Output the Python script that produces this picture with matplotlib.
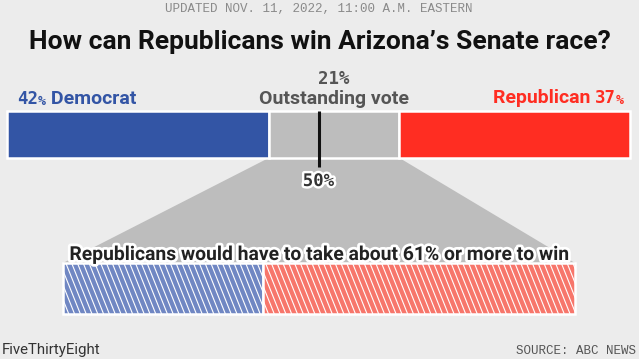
import matplotlib
matplotlib.use("Agg")
import matplotlib.pyplot as plt
from matplotlib.patches import Polygon
import matplotlib.patheffects as pe
import numpy as np

# ---- data ----
top_labels = ["Democrat", "Outstanding vote", "Republican"]
top_shares = [42, 21, 37]
needed_split = [39, 61]          # share of outstanding vote: Dem, Rep
threshold = 50
header = "UPDATED NOV. 11, 2022, 11:00 A.M. EASTERN"
title = "How can Republicans win Arizona\u2019s Senate race?"
sub_label = "Republicans would have to take about 61% or more to win"
footer_left = "FiveThirtyEight"
footer_right = "SOURCE: ABC NEWS"

BG = "#ececec"
BLUE = "#3355a5"
GRAY = "#bdbdbd"
RED = "#ff2d22"
BLUE_H = "#7087c3"
RED_H = "#f7766b"

plt.rcParams["font.family"] = ["Roboto", "DejaVu Sans"]

fig = plt.figure(figsize=(6.39, 3.59), dpi=100, facecolor=BG)
ax = fig.add_axes([0, 0, 1, 1])
ax.set_facecolor(BG)
ax.set_xlim(0, 639)
ax.set_ylim(359, 0)
ax.axis("off")

# layout
X0, XW = 7, 623
Y_TOP, H_TOP = 134.5, 47
LX0, LXW = 63, 512
Y_LOW, H_LOW = 288.5, 51

scale = XW / sum(top_shares)
lefts = []
acc = 0
for s in top_shares:
    lefts.append(X0 + acc * scale)
    acc += s
colors = [BLUE, GRAY, RED]
ax.barh([Y_TOP] * 3, [s * scale for s in top_shares], left=lefts, height=H_TOP,
        color=colors, edgecolor="white", linewidth=1.8, zorder=2)

# trapezoid
g_left = lefts[1]
g_right = lefts[1] + top_shares[1] * scale
trap = Polygon([(g_left, Y_TOP + H_TOP / 2), (g_right, Y_TOP + H_TOP / 2),
                (LX0 + LXW, Y_LOW - H_LOW / 2), (LX0, Y_LOW - H_LOW / 2)],
               closed=True, facecolor=GRAY, edgecolor="none", zorder=1)
ax.add_patch(trap)

# lower hatched bars
lscale = LXW / sum(needed_split)
low_lefts = [LX0, LX0 + needed_split[0] * lscale]
bars = ax.barh([Y_LOW] * 2, [v * lscale for v in needed_split], left=low_lefts,
               height=H_LOW, color=[BLUE_H, RED_H], edgecolor="white",
               linewidth=1.8, zorder=2)
SPACING = 5.8
SLANT = 0.40
for p in bars.patches:
    x, y, w, h = p.get_x(), p.get_y(), p.get_width(), p.get_height()
    y_top, y_bot = min(y, y + h), max(y, y + h)
    hh = y_bot - y_top
    for xs in np.arange(x - hh * SLANT, x + w + SPACING, SPACING):
        ln, = ax.plot([xs, xs + hh * SLANT], [y_top, y_bot], color="white",
                      lw=0.8, zorder=2.5, solid_capstyle="butt")
        ln.set_clip_path(p)

# 50% line
xt = X0 + threshold * scale
ax.plot([xt, xt], [Y_TOP - H_TOP / 2, 167], color="#111111", lw=2.2, zorder=3,
        solid_capstyle="butt")
stroke = [pe.withStroke(linewidth=3.5, foreground="white")]
ax.text(xt, 181, f"{threshold}%", ha="center", va="center", fontsize=12.5,
        family="DejaVu Sans Mono", fontweight="bold", color="#333333",
        path_effects=stroke, zorder=4)

# header and title
ax.text(319, 9, header, ha="center", va="center", fontsize=9.0,
        family="Liberation Mono", color="#8a8a8a")
ax.text(320, 42, title, ha="center", va="center", fontsize=19,
        fontweight="bold", color="#111111")

# top labels
fs_lab = 14
fs_num = 12.5
fs_pct = 9.5
t = ax.text(17, 104, f"{top_shares[0]}", ha="left", va="baseline", fontsize=fs_num,
            family="DejaVu Sans Mono", fontweight="bold", color=BLUE)
t2 = ax.annotate("%", xy=(1, 0), xycoords=t, xytext=(0, 0), textcoords="offset points",
                 ha="left", va="bottom", fontsize=fs_pct, family="DejaVu Sans Mono",
                 fontweight="bold", color=BLUE)
ax.annotate(" " + top_labels[0], xy=(1, 0), xycoords=t2, ha="left", va="bottom",
            fontsize=fs_lab, fontweight="bold", color=BLUE)

r = ax.text(624, 104, "%", ha="right", va="baseline", fontsize=fs_pct,
            family="DejaVu Sans Mono", fontweight="bold", color=RED)
r2 = ax.annotate(f"{top_shares[2]}", xy=(0, 0), xycoords=r, ha="right", va="bottom",
                 fontsize=fs_num, family="DejaVu Sans Mono", fontweight="bold", color=RED)
ax.annotate(top_labels[2] + " ", xy=(0, 0), xycoords=r2, ha="right", va="bottom",
            fontsize=fs_lab, fontweight="bold", color=RED)

g_mid = (g_left + g_right) / 2
ax.text(g_mid, 79, f"{top_shares[1]}%", ha="center", va="center", fontsize=12.5,
        family="DejaVu Sans Mono", fontweight="bold", color="#555555")
ax.text(g_mid, 104, top_labels[1], ha="center", va="baseline", fontsize=fs_lab,
        fontweight="bold", color="#555555")

# lower label
ax.text(318, 260, sub_label, ha="center", va="baseline", fontsize=13.9,
        fontweight="bold", color="#222222",
        path_effects=[pe.withStroke(linewidth=4, foreground="white")], zorder=5)

# footer
ax.text(2, 354, footer_left, ha="left", va="baseline", fontsize=10.8, color="#333333")
ax.text(636, 354, footer_right, ha="right", va="baseline", fontsize=9.0,
        family="Liberation Mono", color="#555555")

fig.savefig("out.png", dpi=100, facecolor=BG)
